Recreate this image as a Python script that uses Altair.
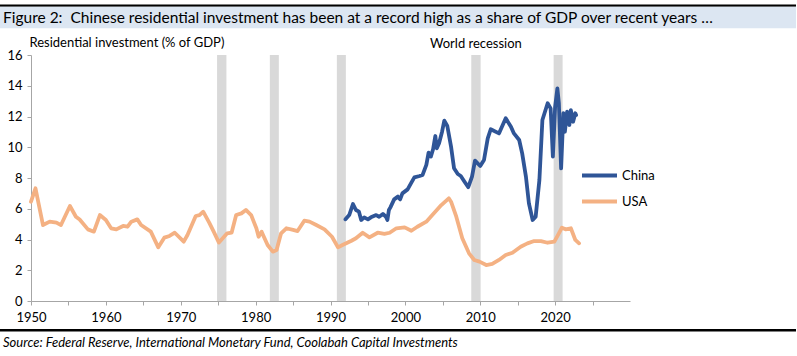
import altair as alt
import pandas as pd

# ---- data ----
usa_years = [1950.0, 1950.6, 1951.6, 1952.5, 1953.4, 1954.0, 1955.2, 1956.0, 1956.5, 1957.6,
             1958.4, 1959.2, 1960.0, 1960.7, 1961.4, 1962.3, 1962.9, 1963.4, 1964.2, 1964.7,
             1966.0, 1967.0, 1967.8, 1968.5, 1969.2, 1970.4, 1970.9, 1972.0, 1972.5, 1973.0,
             1973.8, 1974.4, 1975.1, 1976.2, 1976.8, 1977.4, 1978.1, 1978.7, 1979.4, 1980.1,
             1980.4, 1980.8, 1981.1, 1981.6, 1982.3, 1982.8, 1983.4, 1984.1, 1985.0, 1985.6,
             1986.5, 1987.2, 1988.1, 1989.2, 1990.2, 1991.0, 1991.6, 1992.8, 1993.4, 1994.3,
             1995.2, 1996.3, 1997.2, 1997.9, 1998.8, 1999.9, 2000.8, 2001.6, 2002.8, 2003.6,
             2004.8, 2005.8, 2006.1, 2006.8, 2007.6, 2008.5, 2009.2, 2009.9, 2010.8, 2011.6,
             2012.5, 2013.4, 2014.3, 2015.4, 2016.3, 2017.2, 2018.1, 2019.0, 2019.9, 2020.5,
             2020.9, 2021.4, 2022.1, 2022.7, 2023.2]
usa_values = [6.46, 7.33, 4.94, 5.16, 5.10, 4.94, 6.18, 5.48, 5.30, 4.66,
              4.51, 5.59, 5.27, 4.73, 4.66, 4.88, 4.83, 5.16, 5.31, 4.94,
              4.51, 3.49, 4.12, 4.23, 4.44, 3.86, 4.29, 5.53, 5.59, 5.81,
              5.10, 4.51, 3.80, 4.40, 4.45, 5.59, 5.70, 5.92, 5.59, 4.73,
              4.18, 4.51, 4.18, 3.64, 3.21, 3.32, 4.40, 4.73, 4.62, 4.55,
              5.22, 5.16, 4.94, 4.66, 4.18, 3.49, 3.64, 3.92, 4.08, 4.44,
              4.14, 4.44, 4.36, 4.44, 4.73, 4.79, 4.57, 4.83, 5.16, 5.59,
              6.24, 6.68, 6.46, 5.48, 4.08, 3.10, 2.67, 2.56, 2.34, 2.41,
              2.67, 2.99, 3.14, 3.53, 3.75, 3.90, 3.90, 3.79, 3.86, 4.40,
              4.77, 4.66, 4.73, 3.97, 3.75]

china_years = [1992.0, 1992.5, 1993.0, 1993.4, 1993.8, 1994.1, 1994.5, 1995.0, 1995.4, 1996.1,
               1996.5, 1997.0, 1997.4, 1997.6, 1997.8, 1998.0, 1998.5, 1999.0, 1999.3, 1999.6,
               2000.3, 2000.8, 2001.2, 2001.9, 2002.3, 2002.8, 2003.1, 2003.4, 2003.7, 2004.0,
               2004.2, 2004.5, 2004.9, 2005.2, 2005.6, 2006.1, 2006.5, 2007.0, 2007.4, 2007.9,
               2008.4, 2008.9, 2009.3, 2010.0, 2010.5, 2011.0, 2011.4, 2012.5, 2013.4, 2014.1,
               2014.5, 2015.2, 2015.6, 2016.1, 2016.5, 2017.0, 2017.4, 2017.9, 2018.3, 2019.0,
               2019.4, 2019.7, 2020.0, 2020.3, 2020.5, 2020.8, 2021.1, 2021.3, 2021.6, 2021.9,
               2022.1, 2022.4, 2022.7, 2022.8]
china_values = [5.31, 5.59, 6.31, 5.92, 5.81, 5.27, 5.44, 5.31, 5.44, 5.59,
                5.48, 5.66, 5.48, 5.27, 5.92, 6.09, 6.61, 6.79, 6.61, 7.00,
                7.26, 7.70, 8.04, 8.13, 8.20, 8.85, 9.65, 9.39, 9.87, 10.73,
                9.93, 10.26, 11.01, 11.73, 11.38, 10.04, 8.63, 8.26, 8.13, 7.76,
                7.40, 8.09, 9.13, 8.78, 9.17, 10.58, 11.17, 10.90, 11.88, 11.34,
                10.90, 10.47, 9.60, 8.09, 6.35, 5.27, 5.48, 7.87, 11.77, 12.86,
                12.53, 9.39, 12.64, 13.83, 12.86, 8.63, 12.21, 11.01, 12.31, 11.45,
                12.42, 11.66, 12.21, 12.10]

recession_start = [1974.85, 1981.9, 1990.85, 2008.8, 2019.8]
recession_end = [1976.1, 1983.1, 1992.05, 2010.05, 2021.0]

series_names = ["China", "USA"]
series_colors = ["#2F5597", "#F4B183"]

x_ticks = list(range(1950, 2030, 5))
y_ticks = list(range(0, 17, 2))

title_text = ("Figure 2:\u00a0 Chinese residential investment has been at a record high "
              "as a share of GDP over recent years \u2026")
source_text = "Source: Federal Reserve, International Monetary Fund, Coolabah Capital Investments"
y_title = "Residential investment (% of GDP)"
note_text = "World recession"

# ---- tables ----
lines_df = pd.concat([
    pd.DataFrame({"year": china_years, "value": china_values, "series": "China"}),
    pd.DataFrame({"year": usa_years, "value": usa_values, "series": "USA"}),
])
rec_df = pd.DataFrame({"start": recession_start, "end": recession_end})

FONT = "Lato"
W, H = 599, 246

x_scale = alt.Scale(domain=[1950, 2030], nice=False, zero=False)
y_scale = alt.Scale(domain=[0, 16], nice=False)

x_axis = alt.Axis(values=x_ticks, title=None, labelFlush=False, labelOverlap=False,
                  labelExpr="datum.value % 10 === 0 ? datum.label : ''",
                  format="d", tickSize=4, labelPadding=6, grid=False)
y_axis = alt.Axis(values=y_ticks, title=y_title, titleAngle=0, titleX=-2, titleY=-13,
                  titleAlign="left", titleBaseline="middle", titleFontWeight="normal",
                  titleFontSize=13, titleFont=FONT, titleColor="#000000",
                  tickSize=4, labelPadding=5, grid=False)

bands = alt.Chart(rec_df).mark_rect(color="#D9D9D9").encode(
    x=alt.X("start:Q", scale=x_scale, axis=x_axis, title=None),
    x2="end:Q",
    y=alt.Y(datum=16, scale=y_scale, axis=y_axis, title=y_title),
    y2=alt.Y2(datum=0),
)

lines = alt.Chart(lines_df).mark_line(strokeWidth=3.8, strokeJoin="round", strokeCap="round").encode(
    x=alt.X("year:Q", scale=x_scale, axis=x_axis, title=None),
    y=alt.Y("value:Q", scale=y_scale, axis=y_axis, title=y_title),
    color=alt.Color("series:N", scale=alt.Scale(domain=series_names, range=series_colors),
                    legend=alt.Legend(title=None, orient="none", legendX=549, legendY=114,
                                      symbolType="stroke", symbolSize=1225, symbolStrokeWidth=4,
                                      clipHeight=13, rowPadding=12, labelOffset=3, padding=0,
                                      labelFontSize=13, labelFont=FONT, labelColor="#000000")),
    order=alt.Order("year:Q"),
)

one = alt.Data(values=[{}])
RIGHT = W + 166

top_rule = alt.Chart(one).mark_rect(color="#000000").encode(
    x=alt.value(-31), x2=alt.value(RIGHT), y=alt.value(-50.5), y2=alt.value(-48.3))
title_band = alt.Chart(one).mark_rect(color="#DCE6F2").encode(
    x=alt.value(-31), x2=alt.value(RIGHT), y=alt.value(-48.3), y2=alt.value(-26.7))
title_mark = alt.Chart(one).mark_text(align="left", baseline="middle", font=FONT, fontSize=15.5,
                                      color="#000000").encode(
    x=alt.value(-28), y=alt.value(-37.5), text=alt.value(title_text))
bottom_rule = alt.Chart(one).mark_rect(color="#000000").encode(
    x=alt.value(-31), x2=alt.value(RIGHT), y=alt.value(274), y2=alt.value(276.5))
source_mark = alt.Chart(one).mark_text(align="left", baseline="middle", font=FONT, fontSize=13,
                                       fontStyle="italic", color="#000000").encode(
    x=alt.value(-28), y=alt.value(288), text=alt.value(source_text))
note_mark = alt.Chart(one).mark_text(align="left", baseline="middle", font=FONT, fontSize=13,
                                     color="#000000").encode(
    x=alt.value(399), y=alt.value(-11), text=alt.value(note_text))

chart = alt.layer(
    bands, lines, top_rule, title_band, title_mark, bottom_rule, source_mark, note_mark
).properties(
    width=W, height=H,
    autosize=alt.AutoSizeParams(type="none"),
    padding={"left": 31, "top": 55, "right": 167, "bottom": 55},
    background="#ffffff",
).configure_view(stroke=None).configure_axis(
    labelFont=FONT, labelFontSize=13, labelColor="#000000",
    domainColor="#A6A6A6", tickColor="#A6A6A6", domainWidth=1, tickWidth=1,
)

chart.save("out.html", embed_options={"renderer": "svg", "actions": False})
